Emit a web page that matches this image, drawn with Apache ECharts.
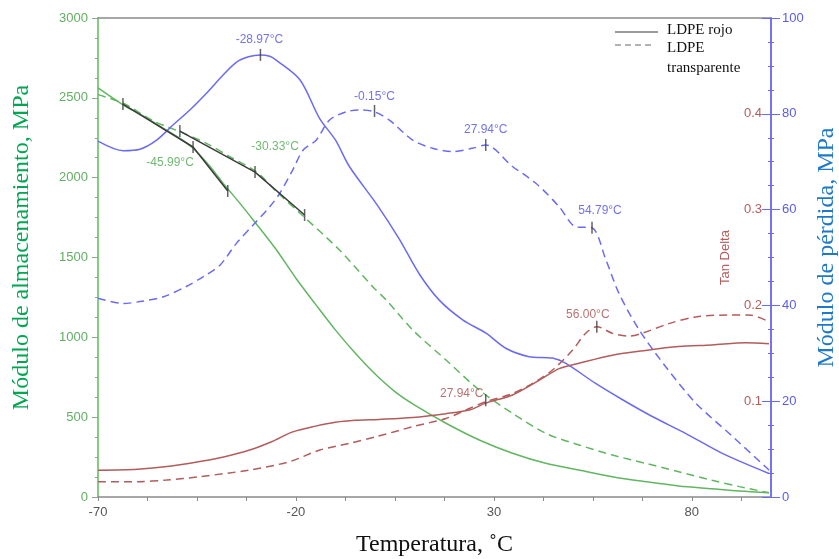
<!DOCTYPE html>
<html><head><meta charset="utf-8">
<script src="https://cdn.jsdelivr.net/npm/echarts@6/dist/echarts.min.js"></script>
<style>html,body{margin:0;padding:0;background:#fff}#c{width:839px;height:559px}</style>
</head><body><div id="c"></div>
<script>
// ---------- data ----------
const xTickLabels = [-70, -20, 30, 80];
const xTicks = [-70, -57.5, -45, -32.5, -20, -7.5, 5, 17.5, 30, 42.5, 55, 67.5, 80, 92.5];

// Storage modulus (MPa), LDPE rojo (solid) and LDPE transparente (dashed)
const tStorageRojo = [-70, -63.6, -58.5, -53.5, -49.3, -46, -42, -38.4, -34.5, -30.8, -25, -20, -15, -10, -5, 0, 5, 10, 17.9, 26.3, 34.7, 43.1, 51.5, 59.9, 68.3, 76.7, 85.1, 92, 99.5];
const storageRojo  = [2562, 2455, 2385, 2309, 2246, 2184, 2080, 1965, 1850, 1735, 1550, 1370, 1205, 1045, 900, 770, 660, 575, 462, 357, 274, 211, 169, 127, 96, 69, 52, 38, 27];
const tStorageTransp = [-70, -63.6, -56, -49.3, -42.6, -36.7, -30, -24.9, -18.2, -9, -0.6, 2.8, 9.5, 17.9, 26.3, 34.7, 43.1, 51.5, 59.9, 68.3, 76.7, 85.1, 92, 99.5];
const storageTransp  = [2520, 2466, 2355, 2288, 2215, 2131, 2037, 1912, 1760, 1547, 1317, 1234, 1046, 858, 670, 524, 399, 326, 263, 211, 158, 105, 65, 27];

// Loss modulus (MPa)
const tLossRojo = [-70, -63.6, -59.4, -55.2, -51, -46.8, -42.6, -38.4, -35, -32, -28.97, -26.6, -25, -19, -14, -10, -6.5, 0.5, 6, 11.2, 16.2, 22.1, 28, 33.1, 38.9, 44.8, 48.2, 55.7, 62.5, 70, 78.4, 87.7, 99.5];
const lossRojo  = [74.3, 72.3, 72.6, 74.5, 77.7, 80.8, 84.3, 88.1, 90.8, 91.9, 92.3, 92.0, 91.2, 87.1, 79, 74.5, 69, 61, 54, 46.5, 41.1, 37, 34.2, 31, 29.3, 29, 27.9, 23.7, 20.3, 16.8, 13.3, 9.1, 4.9];
const tLossTransp = [-70, -63.6, -59.4, -53.5, -47.6, -43.4, -39.2, -35, -30.8, -26.6, -24.1, -20.8, -18.2, -14.9, -11.5, -7.3, -3.9, -0.15, 3.6, 9.5, 14.5, 19.6, 24.6, 27.94, 34.7, 40.6, 46.5, 50.7, 54.79, 58.3, 61.6, 66.7, 73.4, 81, 89.4, 98.6, 99.5];
const lossTransp  = [41.5, 40.4, 40.8, 41.8, 44.0, 46.0, 48.4, 53.0, 56.8, 60.6, 63.4, 68.3, 72.4, 74.5, 78.7, 80.4, 80.8, 80.4, 78.7, 74.5, 72.8, 72.1, 72.8, 73.5, 69.0, 65.5, 60.6, 56.4, 56.2, 49.5, 42.5, 34.9, 27.2, 19.6, 13.3, 6.3, 5.6];

// Tan delta
const tTanRojo = [-70, -60, -52, -44.3, -38, -31.7, -26, -20.8, -15, -10, -5, 1, 9.5, 17.9, 24, 27.94, 34.7, 41.5, 46.5, 51.5, 59.9, 68.3, 76.7, 85.1, 93.6, 99.5];
const tanRojo  = [0.028, 0.029, 0.032, 0.037, 0.042, 0.049, 0.058, 0.068, 0.074, 0.078, 0.080, 0.081, 0.083, 0.087, 0.091, 0.098, 0.1065, 0.122, 0.134, 0.1396, 0.148, 0.153, 0.157, 0.1587, 0.161, 0.160];
const tTanTransp = [-70, -60, -52.7, -44.3, -31.7, -21.6, -14, -6.5, 0.3, 9.5, 17.9, 22.9, 28, 34.7, 39.8, 44.8, 49.9, 53.2, 56.0, 59.9, 64.1, 67.5, 74.2, 81, 89.4, 94.4, 99.5];
const tanTransp  = [0.016, 0.016, 0.0177, 0.0212, 0.0282, 0.0369, 0.049, 0.056, 0.063, 0.0734, 0.082, 0.0908, 0.0995, 0.108, 0.1187, 0.1326, 0.1534, 0.171, 0.1778, 0.171, 0.168, 0.171, 0.181, 0.188, 0.190, 0.190, 0.183];

// Onset tangent lines on storage modulus
const tangentRojoT = [-63.7, -45.99, -37.22];
const tangentRojoV = [2461, 2192, 1916];
const tangentTranspT = [-49.32, -30.33, -17.81];
const tangentTranspV = [2292, 2035, 1766];

// Annotated points
const lossPeakT = [-28.97, -0.15, 27.94, 54.79];
const lossPeakV = [92.3, 80.6, 73.5, 56.2];
const lossPeakLabels = ['-28.97°C', '-0.15°C', '27.94°C', '54.79°C'];
const tanPeakT = [56.00, 27.94];
const tanPeakV = [0.1778, 0.101];
const tanPeakLabels = ['56.00°C', '27.94°C'];
const onsetLabels = ['-45.99°C', '-30.33°C'];

// ---------- styles ----------
const GREEN = '#62b662', BLUE = '#6b6bf2', RED = '#b35c5c', BLACK = '#3c3c3c';
const SANS = 'Liberation Sans', SERIF = 'Liberation Serif';
const zip = (a, b) => a.map((x, i) => [x, b[i]]);

const curve = (name, t, v, yi, color, dashed) => ({
  name, type: 'line', yAxisIndex: yi, data: zip(t, v), smooth: 0.3, symbol: 'none',
  lineStyle: { color, width: 1.5, type: dashed ? [8, 5] : 'solid' }, z: 3
});

const tick = { symbol: 'rect', symbolSize: [1.5, 12], itemStyle: { color: BLACK } };
const lossOffsets = [[-1, -15], [0, -14], [0, -15], [8, -17]];
const tanOffsets = [[-9, -12], [-24, -7]];
const onsetOffsets = [[-23, 16], [20, -25]];
const lbl = (text, off, color) => ({ show: true, position: 'inside', formatter: text, offset: off, color, fontFamily: SANS, fontSize: 12 });

const onsetPts = [
  { value: [tangentRojoT[0], tangentRojoV[0]] },
  { value: [tangentRojoT[1], tangentRojoV[1]], label: lbl(onsetLabels[0], onsetOffsets[0], '#4da64d') },
  { value: [tangentRojoT[2], tangentRojoV[2]] },
  { value: [tangentTranspT[0], tangentTranspV[0]] },
  { value: [tangentTranspT[1], tangentTranspV[1]], label: lbl(onsetLabels[1], onsetOffsets[1], '#4da64d') },
  { value: [tangentTranspT[2], tangentTranspV[2]] }
];

const option = {
  animation: false,
  backgroundColor: '#fff',
  grid: { left: 98, right: 68, top: 18, bottom: 62, outerBoundsMode: 'none', containLabel: false },
  xAxis: [{
    type: 'value', min: -70, max: 100,
    name: 'Temperatura, ˚C', nameLocation: 'middle', nameGap: 36,
    nameTextStyle: { fontFamily: SERIF, fontSize: 24, color: '#111' },
    axisLine: { onZero: false, lineStyle: { color: '#8a8a8a', width: 1.5 } },
    axisTick: { show: true, length: 4, customValues: xTicks, lineStyle: { color: '#8a8a8a' } },
    axisLabel: { customValues: xTickLabels, color: '#555', fontFamily: SANS, fontSize: 13, margin: 9 },
    splitLine: { show: false }
  }, {
    type: 'value', position: 'top', min: -70, max: 100,
    axisLine: { show: true, onZero: false, lineStyle: { color: '#8a8a8a', width: 1.5 } },
    axisTick: { show: false }, axisLabel: { show: false }, splitLine: { show: false }
  }],
  yAxis: [{
    type: 'value', min: 0, max: 3000, interval: 500, position: 'left',
    name: 'Módulo de almacenamiento, MPa', nameLocation: 'middle', nameGap: 64, nameRotate: 90,
    nameTextStyle: { fontFamily: SERIF, fontSize: 24, color: '#00a651', padding: [0, 0, 0, 20] },
    axisLine: { show: true, onZero: false, lineStyle: { color: '#5cb85c', width: 1.5 } },
    axisTick: { show: true, length: 6, lineStyle: { color: '#8aa88a' } },
    minorTick: { show: true, splitNumber: 4, length: 3, lineStyle: { color: '#8aa88a' } },
    axisLabel: { color: '#62b062', fontFamily: SANS, fontSize: 13, margin: 10, formatter: v => String(v) },
    splitLine: { show: false }
  }, {
    type: 'value', min: 0, max: 100, interval: 20, position: 'right',
    name: 'Módulo de pérdida, MPa', nameLocation: 'middle', nameGap: 42, nameRotate: 90,
    nameTextStyle: { fontFamily: SERIF, fontSize: 24, color: '#1f78c8', padding: [0, 0, 0, 20] },
    axisLine: { show: true, onZero: false, lineStyle: { color: BLUE, width: 1.5 } },
    axisTick: { show: true, length: 9, lineStyle: { color: BLUE } },
    minorTick: { show: true, splitNumber: 4, length: 3, lineStyle: { color: BLUE } },
    axisLabel: { color: '#5b5bee', fontFamily: SANS, fontSize: 13, margin: 11, formatter: v => String(v) },
    splitLine: { show: false }
  }, {
    type: 'value', min: 0, max: 0.5, interval: 0.1, position: 'right',
    name: 'Tan Delta', nameLocation: 'middle', nameGap: -52, nameRotate: 90,
    nameTextStyle: { fontFamily: SANS, fontSize: 13, color: RED },
    axisLine: { show: true, onZero: false, lineStyle: { color: BLUE, width: 1.5 } },
    axisTick: { show: true, inside: true, length: 9, lineStyle: { color: BLUE } },
    minorTick: { show: true, splitNumber: 4, length: 3, lineStyle: { color: BLUE } },
    axisLabel: { inside: true, color: RED, fontFamily: SANS, fontSize: 13, margin: 9,
      formatter: v => (v > 0.05 && v < 0.45) ? v.toFixed(1) : '' },
    splitLine: { show: false }
  }],
  graphic: [
    { type: 'line', shape: { x1: 615, y1: 32, x2: 658, y2: 32 }, style: { stroke: '#9a9a9a', lineWidth: 2 } },
    { type: 'text', x: 667, y: 30, style: { text: 'LDPE rojo', font: '15px "Liberation Serif"', fill: '#111', verticalAlign: 'middle' } },
    { type: 'line', shape: { x1: 615, y1: 45, x2: 652, y2: 45 }, style: { stroke: '#9a9a9a', lineWidth: 1.5, lineDash: [6, 4] } },
    { type: 'text', x: 667, y: 48, style: { text: 'LDPE', font: '15px "Liberation Serif"', fill: '#111', verticalAlign: 'middle' } },
    { type: 'text', x: 667, y: 68, style: { text: 'transparente', font: '15px "Liberation Serif"', fill: '#111', verticalAlign: 'middle' } }
  ],
  series: [
    curve('Almacenamiento LDPE rojo', tStorageRojo, storageRojo, 0, GREEN, false),
    curve('Almacenamiento LDPE transparente', tStorageTransp, storageTransp, 0, GREEN, true),
    curve('Pérdida LDPE rojo', tLossRojo, lossRojo, 1, BLUE, false),
    curve('Pérdida LDPE transparente', tLossTransp, lossTransp, 1, BLUE, true),
    curve('Tan Delta LDPE rojo', tTanRojo, tanRojo, 2, RED, false),
    curve('Tan Delta LDPE transparente', tTanTransp, tanTransp, 2, RED, true),
    { type: 'line', yAxisIndex: 0, data: zip(tangentRojoT, tangentRojoV), symbol: 'none', lineStyle: { color: BLACK, width: 1.5 }, z: 4 },
    { type: 'line', yAxisIndex: 0, data: zip(tangentTranspT, tangentTranspV), symbol: 'none', lineStyle: { color: BLACK, width: 1.5 }, z: 4 },
    Object.assign({ type: 'scatter', yAxisIndex: 0, data: onsetPts, z: 5 }, tick),
    Object.assign({ type: 'scatter', yAxisIndex: 1, z: 5,
      data: lossPeakT.map((t, i) => ({ value: [t, lossPeakV[i]], label: lbl(lossPeakLabels[i], lossOffsets[i], '#4f4fe8') })) }, tick),
    Object.assign({ type: 'scatter', yAxisIndex: 2, z: 5,
      data: tanPeakT.map((t, i) => ({ value: [t, tanPeakV[i]], label: lbl(tanPeakLabels[i], tanOffsets[i], '#a84e4e') })) }, tick)
  ]
};
const chart = echarts.init(document.getElementById('c'), null, { renderer: 'canvas' });
chart.setOption(option);
</script>
</body></html>
